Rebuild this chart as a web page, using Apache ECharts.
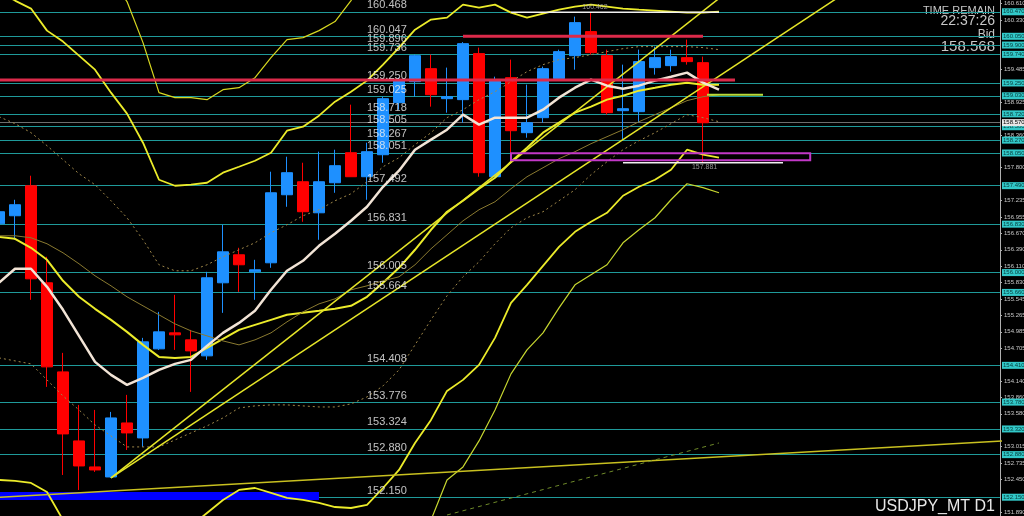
<!DOCTYPE html>
<html>
<head>
<meta charset="utf-8">
<title>USDJPY_MT D1</title>
<script src="https://cdn.jsdelivr.net/npm/echarts@6/dist/echarts.min.js"></script>
<style>
  html, body { margin: 0; padding: 0; background: #000; }
  #chart { width: 1024px; height: 516px; }
</style>
</head>
<body>
<div id="chart"></div>
<script>
// daily bars, index 0 is the half hidden bar on the left edge
const openPx = [156.837, 156.974, 157.488, 155.825, 154.298, 153.115, 152.669, 152.497, 153.423, 153.166,
  154.693, 154.967, 154.847, 154.573, 155.825, 156.305, 156.013, 156.168, 157.334, 157.557,
  157.025, 157.540, 158.055, 157.643, 158.020, 158.912, 159.272, 159.495, 158.981, 158.964,
  159.753, 157.643, 159.341, 158.398, 158.655, 159.324, 159.718, 160.130, 159.718, 158.775,
  158.758, 159.513, 159.547, 159.684, 159.598]
const closePx = [157.043, 157.163, 155.893, 154.384, 153.235, 152.686, 152.617, 153.509, 153.252, 154.813,
  154.984, 154.933, 154.658, 155.911, 156.356, 156.134, 156.048, 157.368, 157.712, 157.043,
  157.557, 157.832, 157.643, 158.072, 158.981, 159.290, 159.718, 159.049, 159.015, 159.924,
  157.712, 159.307, 158.432, 158.569, 159.495, 159.787, 160.284, 159.770, 158.741, 158.809,
  159.616, 159.684, 159.701, 159.616, 158.568]
const lowPx = [156.768, 156.562, 155.533, 154.041, 152.531, 152.274, 152.583, 152.480, 152.960, 153.012,
  154.675, 154.675, 153.955, 154.504, 155.310, 155.670, 155.533, 156.082, 157.128, 156.871,
  156.562, 157.368, 157.643, 157.248, 157.883, 158.792, 159.015, 158.844, 158.741, 158.569,
  157.643, 157.643, 157.935, 158.312, 158.569, 159.307, 159.478, 159.736, 158.707, 158.278,
  158.569, 159.393, 159.444, 159.564, 157.881]
const highPx = [157.128, 157.248, 157.660, 156.271, 154.624, 153.732, 153.646, 153.612, 153.904, 154.881,
  155.327, 155.619, 155.018, 156.013, 156.820, 156.425, 156.219, 157.729, 157.986, 157.883,
  158.072, 158.106, 158.878, 158.226, 159.015, 159.341, 159.736, 159.736, 159.513, 159.950,
  159.856, 159.358, 159.650, 159.221, 159.530, 159.821, 160.387, 160.462, 159.821, 159.564,
  159.821, 159.873, 159.821, 159.993, 159.701]

// indicators (one value per bar, plus one bar to the right)
const maFast = [155.825, 156.065, 156.065, 155.756, 155.362, 154.915, 154.470, 154.247, 154.075, 154.195,
  154.332, 154.435, 154.504, 154.744, 154.967, 155.138, 155.344, 155.705, 156.031, 156.202,
  156.459, 156.665, 156.888, 157.128, 157.471, 157.746, 158.106, 158.278, 158.449, 158.707,
  158.535, 158.655, 158.655, 158.655, 158.792, 158.998, 159.169, 159.307, 159.204, 159.152,
  159.204, 159.290, 159.358, 159.427, 159.255, 159.135]
const bbMid = [156.614, 156.579, 156.425, 156.219, 155.859, 155.585, 155.379, 155.190, 154.984, 154.761,
  154.555, 154.538, 154.555, 154.710, 154.864, 155.018, 155.104, 155.190, 155.276, 155.310,
  155.344, 155.379, 155.430, 155.585, 155.825, 156.082, 156.391, 156.734, 157.043, 157.231,
  157.437, 157.626, 157.900, 158.140, 158.398, 158.569, 158.741, 158.844, 158.964, 159.032,
  159.118, 159.169, 159.221, 159.255, 159.221, 159.221]
const bbUp2 = [160.816, 160.662, 160.525, 160.147, 159.959, 159.718, 159.478, 159.084, 158.724, 158.226,
  157.591, 157.488, 157.506, 157.540, 157.712, 157.814, 157.917, 158.055, 158.432, 158.501,
  158.689, 158.929, 159.101, 159.290, 159.564, 159.856, 160.164, 160.336, 160.370, 160.593,
  160.542, 160.593, 160.456, 160.370, 160.439, 160.507, 160.559, 160.593, 160.559, 160.525,
  160.507, 160.490, 160.473, 160.456, 160.456, 160.473]
const bbLow2 = [152.446, 152.429, 152.394, 152.240, 151.759, 151.451, 151.279, 151.296, 151.245, 151.296,
  151.519, 151.588, 151.656, 151.880, 152.103, 152.274, 152.308, 152.223, 152.137, 152.103,
  152.051, 151.982, 151.965, 152.017, 152.308, 152.617, 153.080, 153.475, 153.972, 154.161,
  154.418, 154.881, 155.482, 155.790, 156.116, 156.442, 156.699, 156.871, 157.025, 157.317,
  157.471, 157.591, 157.763, 158.106, 158.020, 157.969]
const bbUp3 = [162.909, 162.703, 162.566, 162.103, 162.000, 161.794, 161.537, 161.022, 160.645, 159.941,
  159.084, 158.998, 158.998, 158.964, 159.135, 159.169, 159.341, 159.684, 159.993, 160.027,
  160.147, 160.302, 160.662, 161.142, 161.434, 161.742, 162.051, 162.137, 162.034, 162.274,
  162.103, 162.086, 161.742, 161.485, 161.468, 161.485, 161.468, 161.468, 161.365, 161.279,
  161.211, 161.159, 161.108, 161.056, 161.074, 161.108]
const bbLow3 = [150.353, 150.353, 150.387, 150.250, 149.701, 149.375, 149.221, 149.358, 149.375, 149.564,
  149.993, 150.113, 150.198, 150.456, 150.713, 150.902, 150.902, 150.730, 150.559, 150.507,
  150.404, 150.284, 150.233, 150.233, 150.559, 150.885, 151.416, 151.759, 152.446, 152.669,
  153.115, 153.646, 154.264, 154.675, 154.967, 155.396, 155.790, 155.962, 156.134, 156.511,
  156.734, 156.940, 157.248, 157.523, 157.456, 157.368]
const maSlow = [156.631, 156.631, 156.597, 156.494, 156.339, 156.151, 155.945, 155.773, 155.585, 155.430,
  155.276, 155.121, 155.001, 154.915, 154.829, 154.761, 154.847, 154.967, 155.156, 155.327,
  155.464, 155.550, 155.705, 155.773, 155.859, 155.928, 156.134, 156.408, 156.648, 156.888,
  157.077, 157.214, 157.437, 157.643, 157.797, 157.952, 158.072, 158.209, 158.329, 158.449,
  158.586, 158.707, 158.826, 158.947, 159.015, 159.049]
const envUpper = [158.672, 158.552, 158.398, 158.175, 157.935, 157.694, 157.506, 157.231, 156.940, 156.562,
  156.134, 156.031, 156.031, 156.134, 156.271, 156.391, 156.511, 156.682, 156.820, 156.974,
  157.077, 157.231, 157.351, 157.557, 157.814, 157.969, 158.192, 158.398, 158.655, 158.792,
  158.964, 159.101, 159.272, 159.444, 159.564, 159.650, 159.684, 159.736, 159.787, 159.838,
  159.873, 159.873, 159.873, 159.873, 159.856, 159.821]
const envLower = [154.538, 154.487, 154.435, 154.161, 153.886, 153.646, 153.389, 153.200, 153.012, 153.012,
  153.012, 153.132, 153.252, 153.372, 153.509, 153.680, 153.715, 153.732, 153.732, 153.715,
  153.697, 153.697, 153.749, 153.869, 154.058, 154.332, 154.761, 155.190, 155.602, 155.928,
  156.185, 156.494, 156.768, 156.940, 157.043, 157.231, 157.420, 157.677, 157.900, 158.106,
  158.260, 158.398, 158.552, 158.707, 158.655, 158.586]

// drawn objects: [bar index, price] pairs
const trendUp1 = [[7, 152.48], [50, 161.78]]
const trendUp2 = [[7, 152.48], [56, 161.36]]
const trendFlat = [[0, 152.15], [63, 153.12]]
const trendDash = [[28, 151.845], [45, 153.08]]
const resistRed = [[0, 159.30], [46, 159.30]]
const topRed = [[29, 160.05], [44, 160.05]]
const pivotGreen = [[44.25, 159.049], [47.75, 159.049]]
const highMark = [[32, 160.462], [45, 160.462]]
const lowMark = [[39, 157.881], [49, 157.881]]
const supportBox = [[32, 50.7, 158.046, 157.926]]
const blueZone = [[0, 20, 152.239, 152.102]]

const levels = [160.468, 160.047, 159.896, 159.736, 159.250, 159.025, 158.718, 158.505, 158.267, 158.051,
  157.492, 156.831, 156.005, 155.664, 154.408, 153.776, 153.324, 152.880, 152.150]
const tickLabels = [160.610, 160.330, 159.485, 158.925, 158.360, 157.800, 157.235, 156.955, 156.670, 156.390,
  156.110, 155.830, 155.545, 155.265, 154.985, 154.705, 154.140, 153.860, 153.580, 153.015,
  152.735, 152.450, 151.890]
const bidPx = 158.568

const FONT = '"Liberation Sans", Arial, sans-serif'
const withIndex = arr => arr.map((v, i) => [i, v])

function lineSeries(data, color, width, type, z) {
  return {
    type: 'line', data, z: z || 3, silent: true, animation: false,
    showSymbol: false, symbol: 'none',
    lineStyle: { color, width, type: type || 'solid' }
  }
}

function boxRenderer(fill, stroke, lineWidth) {
  return function (params, api) {
    const p0 = api.coord([api.value(0), api.value(2)])
    const p1 = api.coord([api.value(1), api.value(3)])
    return {
      type: 'rect',
      shape: { x: p0[0], y: p0[1], width: p1[0] - p0[0], height: p1[1] - p0[1] },
      style: { fill, stroke, lineWidth }
    }
  }
}

const candles = openPx.map((o, i) => [i, o, closePx[i], lowPx[i], highPx[i]])

const chart = echarts.init(document.getElementById('chart'))

chart.setOption({
  backgroundColor: '#000',
  animation: false,
  grid: { left: 0, top: 0, width: 1000, height: 516, outerBoundsMode: 'none' },
  xAxis: {
    type: 'value', min: 0.0625, max: 62.5625, show: false,
    splitLine: { show: false }
  },
  yAxis: {
    type: 'value', position: 'right', min: 151.828, max: 160.672, scale: true,
    splitLine: { show: false },
    axisLine: { show: true, lineStyle: { color: '#b0b0b0', width: 1 } },
    axisTick: { show: true, customValues: tickLabels, length: 2, inside: false, lineStyle: { color: '#b0b0b0' } },
    axisLabel: {
      customValues: tickLabels, color: '#c8c8c8', fontSize: 6, margin: 4, fontFamily: FONT,
      formatter: v => v.toFixed(3)
    }
  },
  graphic: [
    { type: 'text', right: 29, top: 5, style: { text: 'TIME REMAIN', fill: '#c8c8c8', font: '11px ' + FONT, textAlign: 'right' } },
    { type: 'text', right: 29, top: 14, style: { text: '22:37:26', fill: '#c8c8c8', font: '14px ' + FONT, textAlign: 'right' } },
    { type: 'text', right: 29, top: 29, style: { text: 'Bid', fill: '#c8c8c8', font: '12px ' + FONT, textAlign: 'right' } },
    { type: 'text', right: 29, top: 39, style: { text: '158.568', fill: '#c8c8c8', font: '15px ' + FONT, textAlign: 'right' } },
    { type: 'text', right: 29, bottom: 1, style: { text: 'USDJPY_MT D1', fill: '#e8e8e8', font: '16px ' + FONT, textAlign: 'right' } }
  ],
  series: [
    {
      type: 'custom', renderItem: boxRenderer('#0000ff', null, 0), data: blueZone,
      encode: { x: [0, 1], y: [2, 3] }, z: 1, silent: true
    },
    {
      type: 'candlestick', data: candles, z: 2, barWidth: 11, silent: true,
      itemStyle: {
        color: '#1e90ff', color0: '#ff0000',
        borderColor: '#1e90ff', borderColor0: '#ff0000', borderWidth: 1
      },
      markLine: {
        silent: true, symbol: 'none', z: 1, animation: false,
        lineStyle: { color: '#1f9a9a', width: 1, type: 'solid' },
        label: {
          show: true, position: 'end', distance: 2, fontSize: 6, fontFamily: FONT,
          color: '#063b3b', backgroundColor: '#32c8c8', padding: [1, 1, 0, 1],
          formatter: p => Number(p.value).toFixed(3)
        },
        data: levels.map(v => ({ yAxis: v })).concat([{
          yAxis: bidPx,
          lineStyle: { color: '#6e6e6e', width: 1 },
          label: { backgroundColor: '#e6e6e6', color: '#000' }
        }])
      }
    },
    lineSeries(withIndex(bbUp3), '#d8d820', 1.2),
    lineSeries(withIndex(bbLow3), '#c8d830', 1.2),
    lineSeries(withIndex(bbUp2), '#ecec2a', 1.8),
    lineSeries(withIndex(bbLow2), '#ecec2a', 1.8),
    lineSeries(withIndex(bbMid), '#ecec2a', 2),
    lineSeries(withIndex(maSlow), '#8a7a30', 1),
    lineSeries(withIndex(envUpper), '#a0884a', 1, [2, 3]),
    lineSeries(withIndex(envLower), '#a0884a', 1, [2, 3]),
    lineSeries(trendUp1, '#e6e628', 1.5),
    lineSeries(trendUp2, '#e6e628', 1.5),
    lineSeries(trendFlat, '#c8c020', 1.5),
    lineSeries(trendDash, '#6f8a2a', 1, [4, 4]),
    lineSeries(withIndex(maFast), '#f2e4d6', 2.5, 'solid', 4),
    lineSeries(resistRed, '#dc2a4a', 3, 'solid', 4),
    lineSeries(topRed, '#dc2a4a', 3, 'solid', 4),
    lineSeries(pivotGreen, '#b8dc3a', 2, 'solid', 4),
    lineSeries(highMark, '#f0f0f0', 1.5, 'solid', 4),
    lineSeries(lowMark, '#f0f0f0', 1.5, 'solid', 4),
    {
      type: 'custom', renderItem: boxRenderer(null, '#c238c8', 2), data: supportBox,
      encode: { x: [0, 1], y: [2, 3] }, z: 4, silent: true
    },
    {
      type: 'scatter', symbolSize: 0, z: 5, silent: true,
      data: [[37.25, 160.462]],
      label: {
        show: true, position: [0, -2], align: 'center', verticalAlign: 'bottom',
        color: '#b8b8b8', fontSize: 7, fontFamily: FONT, formatter: p => p.value[1].toFixed(3)
      }
    },
    {
      type: 'scatter', symbolSize: 0, z: 5, silent: true,
      data: [[44.1, 157.881]],
      label: {
        show: true, position: [0, 1], align: 'center', verticalAlign: 'top',
        color: '#b8b8b8', fontSize: 7, fontFamily: FONT, formatter: p => p.value[1].toFixed(3)
      }
    },
    {
      type: 'scatter', symbolSize: 0, z: 5, silent: true,
      data: levels.map(v => [23, v]),
      label: {
        show: true, position: [0, -1], align: 'left', verticalAlign: 'bottom',
        color: '#f0f0f0', fontSize: 11, fontFamily: FONT, formatter: p => p.value[1].toFixed(3)
      }
    }
  ]
})
</script>
</body>
</html>
